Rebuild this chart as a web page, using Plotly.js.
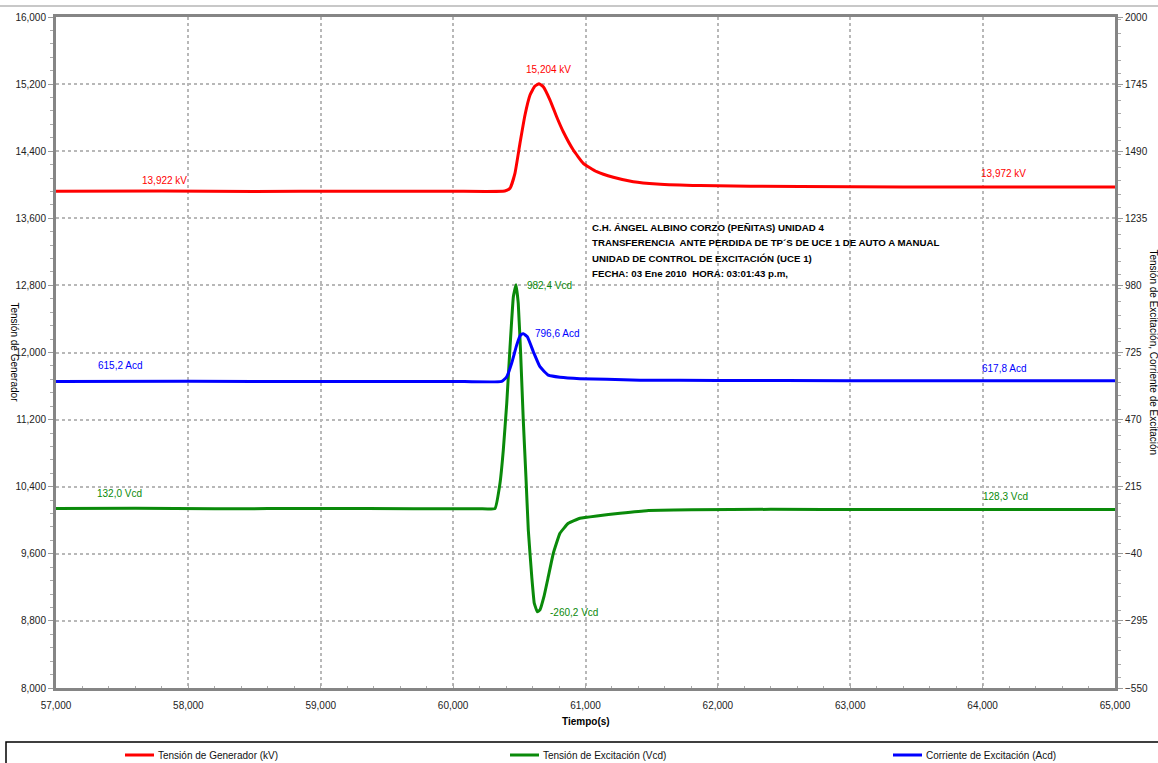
<!DOCTYPE html>
<html>
<head>
<meta charset="utf-8">
<script src="https://cdn.plot.ly/plotly-3.0.1.min.js"></script>
<style>html,body{margin:0;padding:0;background:#fff;}#chart{width:1158px;height:763px;}</style>
</head>
<body>
<div id="chart"></div>
<script>
// Tensión de Generador (kV) - left axis
const genTime = [57.0, 57.8, 58.5, 59.2, 60.0, 60.39, 60.43, 60.467, 60.505, 60.543, 60.581, 60.618, 60.649, 60.681, 60.732, 60.782, 60.832, 60.908, 60.983, 61.085, 61.21, 61.361, 61.538, 61.865, 62.62, 63.4, 64.2, 65.0];
const genKV = [13.922, 13.924, 13.920, 13.923, 13.922, 13.925, 13.958, 14.136, 14.494, 14.832, 15.070, 15.177, 15.204, 15.169, 15.010, 14.811, 14.632, 14.414, 14.256, 14.156, 14.089, 14.036, 14.009, 13.990, 13.978, 13.974, 13.972, 13.972];

// Tensión de Excitación (Vcd) - right axis
const excVTime = [57.0, 57.6, 58.2, 59.0, 59.7, 60.2, 60.316, 60.354, 60.379, 60.405, 60.430, 60.455, 60.475, 60.492, 60.510, 60.530, 60.550, 60.568, 60.594, 60.613, 60.636, 60.656, 60.686, 60.719, 60.757, 60.807, 60.870, 60.958, 61.085, 61.261, 61.462, 61.8, 62.4, 63.2, 64.0, 65.0];
const excV = [132.0, 133.5, 131.0, 132.5, 131.5, 131.0, 132.0, 228, 354, 532, 747, 937, 982.4, 912, 722, 468, 253, 50, -127, -228, -260.2, -253, -203, -127, -38, 38, 76, 95, 104, 114, 124, 127, 129, 128, 128.5, 128.3];

// Corriente de Excitación (Acd) - right axis
const excITime = [57.0, 58.0, 59.0, 60.0, 60.367, 60.405, 60.442, 60.480, 60.510, 60.530, 60.560, 60.606, 60.656, 60.719, 60.807, 60.958, 61.16, 61.412, 62.0, 63.0, 64.0, 65.0];
const excI = [615.2, 615.5, 615.0, 615.2, 615.2, 633, 684, 753, 792, 796.6, 785, 728, 671, 639, 631, 625.6, 623, 620, 618.5, 618, 617.5, 617.8];

const seriesNames = ["Tensión de Generador (kV)", "Tensión de Excitación (Vcd)", "Corriente de Excitación (Acd)"];

// value labels
const labelTexts = ["15,204 kV", "13,922 kV", "13,972 kV", "982,4 Vcd", "796,6 Acd", "615,2 Acd", "617,8 Acd", "132,0 Vcd", "128,3 Vcd", "-260,2 Vcd"];
const labelX = [60.724, 57.816, 64.161, 60.543, 60.603, 57.483, 64.161, 57.483, 64.176, 60.717];
const labelY = [15.38, 14.045, 14.14, 981.5, 799, 677.5, 666, 187.3, 175.9, -261.2];

const infoLines = [
  "C.H. ÁNGEL ALBINO CORZO (PEÑITAS) UNIDAD 4",
  "TRANSFERENCIA  ANTE PERDIDA DE TP´S DE UCE 1 DE AUTO A MANUAL",
  "UNIDAD DE CONTROL DE EXCITACIÓN (UCE 1)",
  "FECHA: 03 Ene 2010  HORA: 03:01:43 p.m,"
];

const RED = "#ff0000", GREEN = "#0a8a0a", BLUE = "#0000ff";
const colors = [RED, GREEN, BLUE];

const traces = [
  {x: genTime, y: genKV, name: seriesNames[0], type: "scatter", mode: "lines", line: {color: RED, width: 3, shape: "spline", smoothing: 0.4}, yaxis: "y"},
  {x: excVTime, y: excV, name: seriesNames[1], type: "scatter", mode: "lines", line: {color: GREEN, width: 3, shape: "spline", smoothing: 0.3}, yaxis: "y2"},
  {x: excITime, y: excI, name: seriesNames[2], type: "scatter", mode: "lines", line: {color: BLUE, width: 3, shape: "spline", smoothing: 0.4}, yaxis: "y2"}
];

const L = 56, T = 17, W = 1059, H = 671;
const px = v => (v - L) / W;          // pixel x -> paper
const py = v => (T + H - v) / H;      // pixel y -> paper

const labelAxis = ["y", "y", "y", "y2", "y2", "y2", "y2", "y2", "y2", "y2"];
const labelColor = [RED, RED, RED, GREEN, BLUE, BLUE, BLUE, GREEN, GREEN, GREEN];
const labelAnchor = ["center", "center", "center", "left", "left", "center", "center", "center", "center", "left"];

const annotations = labelTexts.map((t, i) => ({
  text: t, x: labelX[i], y: labelY[i], xref: "x", yref: labelAxis[i],
  showarrow: false, xanchor: labelAnchor[i], yanchor: "middle",
  font: {size: 10, color: labelColor[i], family: "Liberation Sans, Arial, sans-serif"}
}));

const infoY = [227, 243, 258, 273];
infoLines.forEach((t, i) => {
  annotations.push({
    text: t, xref: "paper", yref: "paper", x: px(590), y: py(infoY[i]),
    xanchor: "left", yanchor: "middle", showarrow: false,
    font: {size: 9.7, color: "#000", family: "Liberation Sans, Arial, sans-serif", weight: "bold"}
  });
});

annotations.push({text: "<b>Tiempo(s)</b>", xref: "paper", yref: "paper", x: 0.5, y: py(722),
  xanchor: "center", yanchor: "middle", showarrow: false, font: {size: 10, color: "#000"}});
annotations.push({text: "Tensión de Generador", xref: "paper", yref: "paper", x: px(14), y: 0.5,
  xanchor: "center", yanchor: "middle", textangle: 90, showarrow: false, font: {size: 10, color: "#000"}});
annotations.push({text: "Tensión de Excitación, Corriente de Excitación", xref: "paper", yref: "paper", x: px(1153), y: 0.5,
  xanchor: "center", yanchor: "middle", textangle: 90, showarrow: false, font: {size: 10, color: "#000"}});

// legend (drawn as key lines + labels in the bottom box)
const legendLineX = [125, 510, 893];
const legendY = 755;
const shapes = [
  {type: "line", xref: "paper", yref: "paper", x0: px(0), x1: px(1158), y0: py(6), y1: py(6), line: {color: "#c8c8c8", width: 2}},
  {type: "rect", xref: "paper", yref: "paper", x0: px(6), x1: px(1170), y0: py(742), y1: py(775), line: {color: "#000", width: 1.5}, fillcolor: "rgba(0,0,0,0)"}
];
seriesNames.forEach((n, i) => {
  shapes.push({type: "line", xref: "paper", yref: "paper", x0: px(legendLineX[i]), x1: px(legendLineX[i] + 29),
    y0: py(legendY), y1: py(legendY), line: {color: colors[i], width: 3}});
  annotations.push({text: n, xref: "paper", yref: "paper", x: px(legendLineX[i] + 31), y: py(legendY),
    xanchor: "left", yanchor: "middle", showarrow: false, font: {size: 10, color: "#111"}});
});

const gridStyle = {showgrid: true, gridcolor: "#b8b8b8", gridwidth: 2, griddash: "3px,3px"};

const layout = {
  width: 1158, height: 763,
  margin: {l: L, r: 1158 - L - W, t: T, b: 763 - T - H, pad: 0},
  paper_bgcolor: "#ffffff", plot_bgcolor: "#ffffff",
  separators: ",.",
  font: {family: "Liberation Sans, Arial, sans-serif", size: 10, color: "#222"},
  showlegend: false,
  xaxis: Object.assign({range: [57, 65], tick0: 57, dtick: 1, tickformat: ".3f", zeroline: false, automargin: false,
    showline: true, linecolor: "#858585", linewidth: 3, mirror: true,
    ticks: "inside", ticklen: 4, tickcolor: "#aaa", tickwidth: 1, ticklabelstandoff: 6,
    minor: {dtick: 0.2, ticks: "inside", ticklen: 2, tickcolor: "#aaa", showgrid: false}}, gridStyle),
  yaxis: Object.assign({range: [8, 16], tick0: 8, dtick: 0.8, tickformat: ".3f", zeroline: false, automargin: false,
    showline: true, linecolor: "#858585", linewidth: 3,
    ticks: "outside", ticklen: 5, tickcolor: "#999", tickwidth: 1,
    minor: {dtick: 0.16, ticks: "outside", ticklen: 3, tickcolor: "#aaa", showgrid: false}}, gridStyle),
  yaxis2: {overlaying: "y", side: "right", range: [-550, 2000], tick0: -550, dtick: 255, tickformat: "d", automargin: false,
    showgrid: false, zeroline: false, showline: true, linecolor: "#858585", linewidth: 3,
    ticks: "outside", ticklen: 5, tickcolor: "#999", tickwidth: 1,
    minor: {dtick: 51, ticks: "outside", ticklen: 3, tickcolor: "#aaa", showgrid: false}},
  annotations: annotations,
  shapes: shapes
};

Plotly.newPlot("chart", traces, layout, {displayModeBar: false, staticPlot: true});
</script>
</body>
</html>
